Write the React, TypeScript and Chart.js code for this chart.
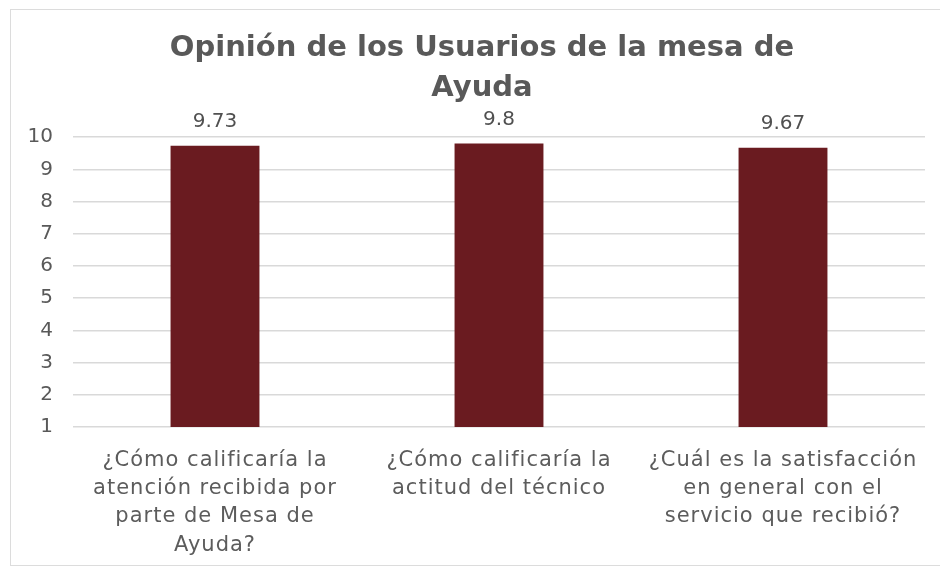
import React, { useEffect, useRef } from "react";
import { Chart, registerables } from "chart.js";

Chart.register(...registerables);

const titleLines = ["Opinión de los Usuarios de la mesa de", "Ayuda"];
const categories: string[][] = [
  ["¿Cómo calificaría la", "atención recibida por", "parte de Mesa de", "Ayuda?"],
  ["¿Cómo calificaría la", "actitud del técnico"],
  ["¿Cuál es la satisfacción", "en general con el", "servicio que recibió?"],
];
const values = [9.73, 9.8, 9.67];
const valueLabels = ["9.73", "9.8", "9.67"];
const yMin = 1;
const yMax = 10;

const FONT = "'DejaVu Sans', 'Open Sans', sans-serif";

const dataLabelPlugin = {
  id: "dataLabels",
  afterLayout(chart: any) {
    const t = chart.titleBlock;
    if (t) {
      t.left += 39;
    }
  },
  afterDatasetsDraw(chart: any) {
    const ctx = chart.ctx;
    const meta = chart.getDatasetMeta(0);
    ctx.save();
    ctx.font = `20px ${FONT}`;
    ctx.fillStyle = "#505050";
    ctx.textAlign = "center";
    ctx.textBaseline = "alphabetic";
    meta.data.forEach((bar: any, i: number) => {
      ctx.fillText(valueLabels[i], bar.x, bar.y - 19);
    });
    ctx.restore();
    // the category tick labels are drawn after this hook (ticks.z: 1): widen their letters
    (ctx as any).letterSpacing = "1px";
  },
  afterDraw(chart: any) {
    (chart.ctx as any).letterSpacing = "0px";
  },
};

export default function App() {
  const ref = useRef<HTMLCanvasElement | null>(null);
  useEffect(() => {
    if (!ref.current) return;
    const chart = new Chart(ref.current, {
      type: "bar",
      data: {
        labels: categories,
        datasets: [
          {
            data: values,
            backgroundColor: "#6A1B20",
            borderWidth: 0,
            barPercentage: 0.313,
            categoryPercentage: 1,
          },
        ],
      },
      options: {
        animation: false,
        responsive: false,
        maintainAspectRatio: false,
        layout: { padding: { left: 0, right: 15, top: 0, bottom: 0 } },
        plugins: {
          legend: { display: false },
          tooltip: { enabled: false },
          title: {
            display: true,
            text: titleLines,
            color: "#595959",
            font: { family: FONT, size: 29, weight: "bold", lineHeight: 1.36 },
            padding: { top: 29, bottom: 29.3 },
          },
        },
        scales: {
          x: {
            grid: { display: false, drawTicks: false },
            border: { display: false },
            ticks: {
              z: 1,
              color: "#5c5c5c",
              font: { family: FONT, size: 21, lineHeight: 1.35 },
              padding: 19,
              maxRotation: 0,
              autoSkip: false,
            },
            afterFit(scale: any) {
              scale.height = 140;
            },
          },
          y: {
            min: yMin,
            max: yMax,
            grid: { color: "#d9d9d9", lineWidth: 1.5, drawTicks: false },
            border: { display: false },
            ticks: {
              stepSize: 1,
              color: "#595959",
              font: { family: FONT, size: 20 },
              padding: 20,
            },
            afterFit(scale: any) {
              scale.width = 73;
            },
          },
        },
      },
      plugins: [dataLabelPlugin],
    });
    return () => chart.destroy();
  }, []);
  return (
    <div
      style={{
        position: "fixed",
        left: 0,
        top: 0,
        width: 940,
        height: 567,
        background: "#ffffff",
        overflow: "hidden",
      }}
    >
      <div
        style={{
          position: "absolute",
          left: 10,
          top: 9,
          width: 960,
          height: 557,
          border: "1px solid #dcdcdc",
          boxSizing: "border-box",
        }}
      />
      <canvas ref={ref} width={940} height={567} style={{ position: "absolute", left: 0, top: 0 }} />
    </div>
  );
}
